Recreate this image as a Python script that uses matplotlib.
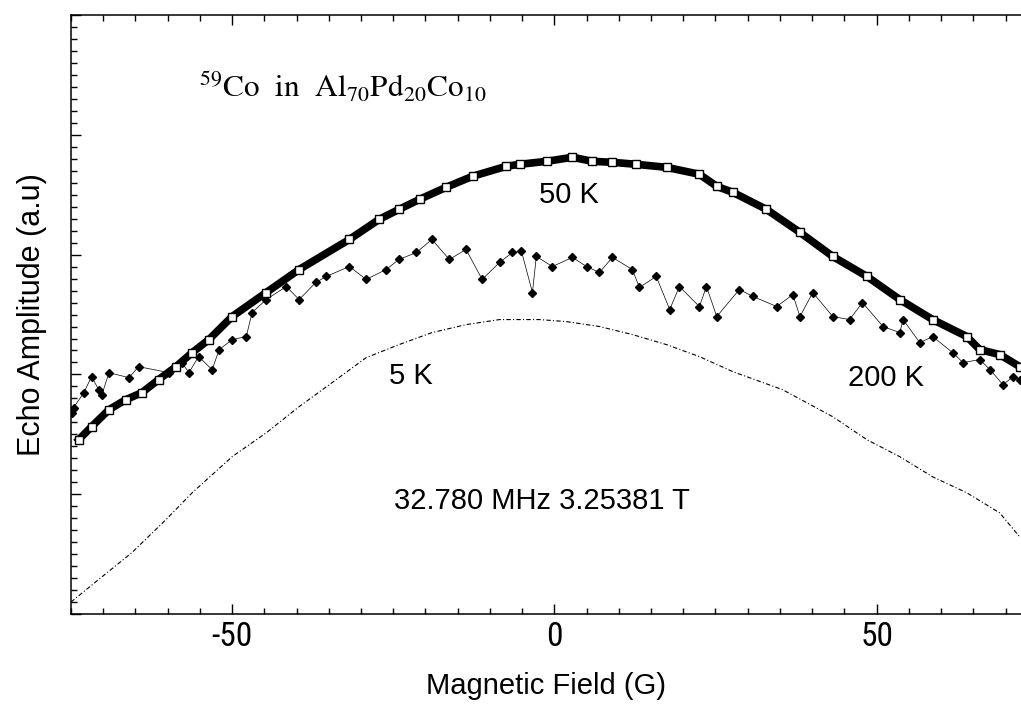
import matplotlib
matplotlib.use('Agg')
import matplotlib.pyplot as plt
from matplotlib import font_manager
from matplotlib.ticker import MultipleLocator, FixedLocator, FixedFormatter

plt.rcParams['axes.unicode_minus'] = False
plt.rcParams['mathtext.fontset'] = 'stix'

# 50 K spectrum (open squares, dense band)
field_50 = [-73.8, -71.8, -69.1, -66.5, -64.0, -61.4, -58.7, -56.2, -53.6, -50.0,
            -44.7, -39.6, -31.8, -27.2, -24.1, -20.9, -16.8, -12.7, -7.5, -5.4,
            -1.2, 2.8, 5.9, 9.0, 12.7, 17.4, 22.5, 25.2, 27.7, 32.9,
            38.1, 43.2, 48.5, 53.6, 58.7, 64.0, 66.0, 69.1, 72.2]
amp_50 = [1.455, 1.564, 1.706, 1.789, 1.848, 1.957, 2.065, 2.182, 2.291, 2.483,
          2.684, 2.876, 3.127, 3.294, 3.378, 3.462, 3.562, 3.654, 3.737, 3.754,
          3.779, 3.813, 3.779, 3.771, 3.754, 3.729, 3.671, 3.570, 3.520, 3.378,
          3.186, 2.985, 2.818, 2.625, 2.458, 2.316, 2.207, 2.166, 2.065]

# 200 K spectrum (filled points, noisy)
field_200 = [-74.9, -74.6, -73.0, -71.8, -70.7, -70.2, -69.1, -66.0, -64.5, -59.8,
             -57.8, -56.7, -55.2, -53.1, -52.0, -50.0, -47.8, -46.9, -44.7, -41.6,
             -39.6, -37.0, -35.4, -31.8, -29.2, -26.1, -24.1, -21.4, -19.0, -16.3,
             -13.7, -11.2, -8.5, -6.5, -5.1, -3.4, -2.8, -0.3, 2.8, 5.0,
             7.0, 9.0, 12.1, 13.2, 15.8, 17.9, 19.4, 22.5, 23.6, 25.2,
             28.7, 30.8, 34.5, 37.0, 38.1, 40.1, 43.2, 45.8, 47.8, 51.0,
             53.6, 54.1, 56.7, 58.7, 61.8, 63.4, 66.0, 67.6, 69.6, 71.2, 72.2]
amp_200 = [1.681, 1.722, 1.848, 1.982, 1.873, 1.831, 2.015, 1.973, 2.065, 2.015,
           2.099, 2.015, 2.149, 2.040, 2.207, 2.291, 2.316, 2.517, 2.625, 2.734,
           2.625, 2.768, 2.818, 2.901, 2.793, 2.876, 2.960, 3.018, 3.127, 2.960,
           3.043, 2.793, 2.935, 3.018, 3.027, 2.684, 2.985, 2.901, 2.977, 2.901,
           2.851, 2.977, 2.876, 2.726, 2.818, 2.542, 2.734, 2.567, 2.734, 2.483,
           2.709, 2.651, 2.567, 2.667, 2.483, 2.684, 2.483, 2.458, 2.600, 2.400,
           2.349, 2.458, 2.266, 2.316, 2.182, 2.099, 2.124, 2.040, 1.915, 1.982, 1.957]

# 5 K spectrum (thin dotted trace)
field_5 = [-75.0, -70.8, -65.6, -60.3, -56.2, -50.0, -44.7, -39.6, -34.5, -29.2,
           -24.1, -19.0, -13.7, -8.5, -2.3, 1.9, 7.0, 12.1, 17.4, 22.5,
           27.7, 35.4, 43.2, 48.5, 53.6, 58.7, 64.0, 69.1, 72.2]
amp_5 = [0.100, 0.284, 0.510, 0.786, 1.012, 1.313, 1.513, 1.731, 1.931, 2.140,
         2.249, 2.349, 2.416, 2.458, 2.458, 2.441, 2.400, 2.333, 2.249, 2.149,
         2.023, 1.873, 1.647, 1.455, 1.313, 1.145, 1.012, 0.844, 0.644]

xticks = [-50, 0, 50]
xticklabels = ['-50', '0', '50']

# narrow face for the tick numbers if one is installed
names = {f.name for f in font_manager.fontManager.ttflist}
narrow = [n for n in ['Liberation Sans Narrow', 'DejaVu Sans Condensed', 'Roboto Condensed',
                      'Open Sans Condensed', 'Noto Sans Condensed'] if n in names]
tick_family = narrow[0] if narrow else 'DejaVu Sans'

fig = plt.figure(figsize=(10.21, 7.07), dpi=100)
ax = fig.add_axes([0.0695, 0.1315, 0.9305, 0.8472])

ax.plot(field_5, amp_5, color='black', linestyle=(0, (4, 2, 1, 2)), linewidth=0.8)
ax.plot(field_200, amp_200, color='black', linewidth=0.5, marker='D', markersize=4)
ax.plot(field_50, amp_50, color='black', linewidth=5.5)
ax.plot(field_50, amp_50, linestyle='none', marker='s', markersize=5.5,
        markerfacecolor='white', markeredgecolor='black', markeredgewidth=1)

ax.set_xlim(-75, 72.4)
ax.set_ylim(0, 5)

ax.xaxis.set_major_locator(FixedLocator(xticks))
ax.xaxis.set_major_formatter(FixedFormatter(xticklabels))
ax.xaxis.set_minor_locator(MultipleLocator(5))
ax.yaxis.set_major_locator(MultipleLocator(1))
ax.yaxis.set_minor_locator(MultipleLocator(0.1))
ax.set_yticklabels([])
ax.tick_params(which='both', direction='in', top=True, right=False, width=1)
ax.tick_params(which='major', length=7)
ax.tick_params(which='minor', length=4)
ax.tick_params(axis='x', pad=5)
for lab in ax.get_xticklabels():
    lab.set_family(tick_family)
    lab.set_stretch('condensed')
    lab.set_fontsize(24)
ax.spines['right'].set_visible(False)
for s in ['left', 'bottom', 'top']:
    ax.spines[s].set_linewidth(1.1)

ax.set_xlabel('Magnetic Field (G)', family='Liberation Sans', fontsize=21, labelpad=14)
ax.set_ylabel('Echo Amplitude (a.u)', family='Liberation Sans', fontsize=22, labelpad=14)

ax.text(-55.2, 4.306, r'$^{59}$Co  in  Al$_{70}$Pd$_{20}$Co$_{10}$',
        family='STIXGeneral', fontsize=22.5, ha='left', va='baseline')
ax.text(2.3, 3.495, '50 K', family='Liberation Sans', fontsize=21, ha='center', va='center')
ax.text(-22.2, 1.99, '5 K', family='Liberation Sans', fontsize=21, ha='center', va='center')
ax.text(51.4, 1.973, '200 K', family='Liberation Sans', fontsize=21, ha='center', va='center')
ax.text(-1.9, 0.945, '32.780 MHz 3.25381 T', family='Liberation Sans', fontsize=21,
        ha='center', va='center')

fig.savefig('out.png', dpi=100)
